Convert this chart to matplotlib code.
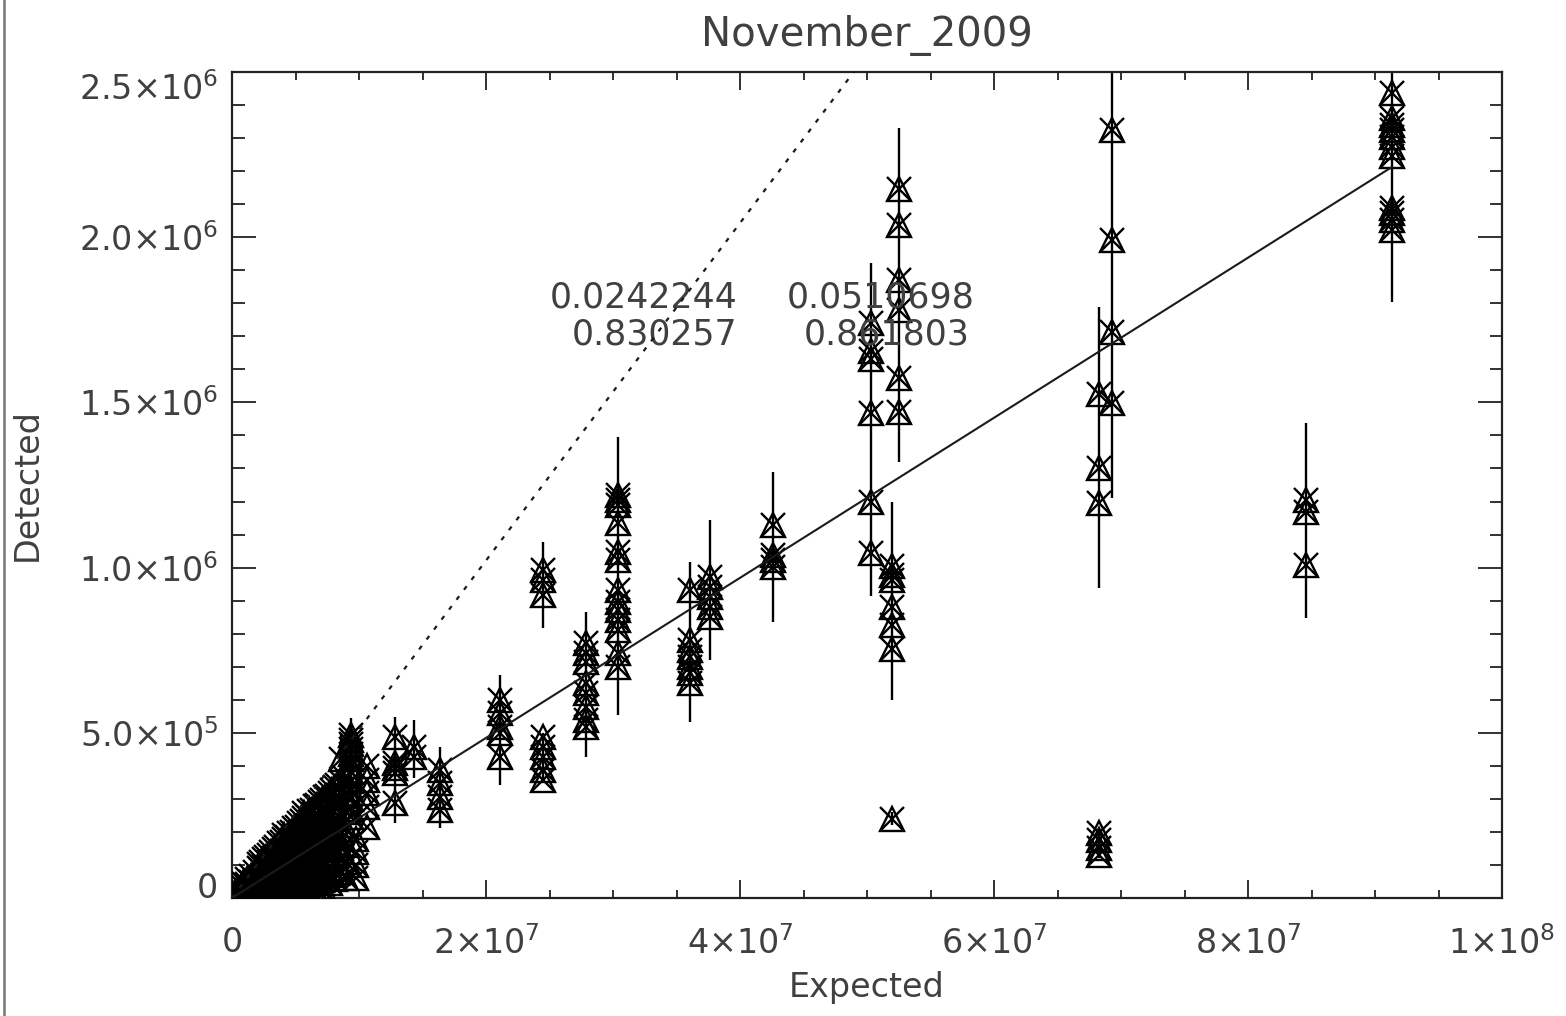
import matplotlib
matplotlib.use("Agg")
import matplotlib.pyplot as plt
from matplotlib.lines import Line2D
from matplotlib.ticker import FixedLocator, MultipleLocator

# ---------------- data (expected in units of 1e6, detected in units of 1e6) ----------------
group_expected = [0.15, 0.35, 0.6, 0.9, 1.2, 1.5, 1.8, 2.1, 2.3, 2.5, 2.7, 2.9, 3.1, 3.3, 3.5,
                  3.7, 3.9, 4.1, 4.3, 4.5, 4.7, 4.9, 5.1, 5.3, 5.5, 5.7, 5.9, 6.1, 6.3, 6.5,
                  6.7, 6.9, 7.1, 7.3, 7.5, 7.7, 7.9, 8.1, 8.3, 8.6, 9.0, 9.4, 9.8, 10.6,
                  12.8, 14.3, 16.4, 21.1, 24.5, 27.9, 30.4, 36.1, 37.6, 42.6, 50.3, 52.0,
                  52.5, 68.3, 69.3, 84.6, 91.3]
group_detected = [
    [0.003, 0.008],
    [0.004, 0.012, 0.020],
    [0.006, 0.015, 0.028],
    [0.005, 0.018, 0.034, 0.045],
    [0.008, 0.022, 0.041, 0.057],
    [0.006, 0.025, 0.047, 0.068],
    [0.010, 0.031, 0.055, 0.079],
    [0.007, 0.036, 0.062, 0.090, 0.102],
    [0.015, 0.050, 0.084, 0.108],
    [0.012, 0.040, 0.071, 0.098, 0.117],
    [0.020, 0.058, 0.093, 0.124],
    [0.009, 0.045, 0.080, 0.108, 0.131],
    [0.022, 0.066, 0.102, 0.138],
    [0.015, 0.052, 0.088, 0.121, 0.148],
    [0.025, 0.072, 0.112, 0.154],
    [0.011, 0.058, 0.095, 0.132, 0.165],
    [0.028, 0.079, 0.121, 0.168],
    [0.018, 0.063, 0.104, 0.146, 0.178, 0.190],
    [0.030, 0.086, 0.130, 0.184],
    [0.014, 0.070, 0.113, 0.158, 0.196],
    [0.033, 0.092, 0.140, 0.200],
    [0.021, 0.076, 0.122, 0.170, 0.212],
    [0.036, 0.098, 0.150, 0.215],
    [0.016, 0.082, 0.131, 0.183, 0.228],
    [0.040, 0.105, 0.160, 0.232],
    [0.024, 0.088, 0.140, 0.196, 0.243, 0.256],
    [0.043, 0.112, 0.170, 0.248],
    [0.019, 0.094, 0.150, 0.209, 0.262],
    [0.046, 0.120, 0.180, 0.265],
    [0.027, 0.100, 0.160, 0.221, 0.278],
    [0.050, 0.128, 0.192, 0.282],
    [0.030, 0.106, 0.170, 0.233, 0.292],
    [0.054, 0.136, 0.203, 0.296],
    [0.020, 0.112, 0.180, 0.246, 0.305],
    [0.060, 0.145, 0.215, 0.310],
    [0.045, 0.120, 0.190, 0.258, 0.318],
    [0.070, 0.155, 0.228, 0.326],
    [0.058, 0.135, 0.205, 0.272, 0.335],
    [0.075, 0.165, 0.240, 0.342],
    [0.080, 0.150, 0.220, 0.290, 0.350, 0.420],
    [0.060, 0.110, 0.160, 0.210, 0.260, 0.310, 0.360],
    [0.493, 0.478, 0.465, 0.450, 0.435, 0.420, 0.400, 0.380, 0.355, 0.330, 0.300, 0.270, 0.245],
    [0.060, 0.100, 0.140, 0.180],
    [0.215, 0.275, 0.318, 0.357, 0.400],
    [0.487, 0.409, 0.393, 0.378, 0.288],
    [0.457, 0.427],
    [0.387, 0.348, 0.306, 0.266],
    [0.599, 0.560, 0.518, 0.499, 0.427],
    [0.993, 0.963, 0.917, 0.487, 0.457, 0.427, 0.387, 0.357],
    [0.772, 0.742, 0.714, 0.651, 0.621, 0.578, 0.539, 0.518],
    [1.220, 1.205, 1.190, 1.135, 1.047, 1.023, 0.932, 0.896, 0.872, 0.841, 0.811, 0.742, 0.699],
    [0.932, 0.781, 0.751, 0.730, 0.699, 0.681, 0.651],
    [0.972, 0.941, 0.911, 0.881, 0.851],
    [1.129, 1.038, 1.023, 1.002],
    [1.741, 1.656, 1.632, 1.468, 1.199, 1.044],
    [1.005, 0.978, 0.963, 0.881, 0.826, 0.754, 0.239],
    [2.146, 2.037, 1.871, 1.780, 1.574, 1.471],
    [1.526, 1.302, 1.196, 0.197, 0.176, 0.151, 0.130],
    [2.325, 1.992, 1.713, 1.498],
    [1.205, 1.168, 1.008],
    [2.437, 2.361, 2.340, 2.324, 2.303, 2.273, 2.245, 2.089, 2.073, 2.052, 2.022],
]

# error bars: expected, lower end, upper end (units of 1e6)
err_expected = [91.3, 84.6, 69.3, 68.3, 68.3, 52.5, 52.0, 52.0, 50.3, 42.6, 37.6, 36.1, 30.4,
                27.9, 24.5, 24.5, 21.1, 16.4, 14.3, 12.8, 9.4, 8.6, 6.1, 4.1]
err_low = [1.804, 0.848, 1.211, 0.938, 0.120, 1.320, 0.599, 0.220, 0.914, 0.835, 0.720, 0.533,
           0.554, 0.427, 0.817, 0.360, 0.342, 0.212, 0.363, 0.227, 0.300, 0.300, 0.150, 0.100]
err_high = [2.600, 1.438, 2.600, 1.789, 0.210, 2.331, 1.199, 0.260, 1.922, 1.290, 1.144, 1.017,
            1.395, 0.866, 1.078, 0.500, 0.675, 0.457, 0.539, 0.548, 0.545, 0.500, 0.300, 0.220]

fit_slopes = [0.0242244, 0.0510698]
fit_corr = [0.830257, 0.861803]

title = "November_2009"
x_label = "Expected"
y_label = "Detected"
x_ticks = [0, 2e7, 4e7, 6e7, 8e7, 1e8]
x_tick_labels = ['0', r'$2{\times}10^{7}$', r'$4{\times}10^{7}$', r'$6{\times}10^{7}$',
                 r'$8{\times}10^{7}$', r'$1{\times}10^{8}$']
y_ticks = [0, 5e5, 1e6, 1.5e6, 2e6, 2.5e6]
y_tick_labels = ['0', r'$5.0{\times}10^{5}$', r'$1.0{\times}10^{6}$', r'$1.5{\times}10^{6}$',
                 r'$2.0{\times}10^{6}$', r'$2.5{\times}10^{6}$']

# ---------------- flatten ----------------
SCALE = 1e6
xs, ys = [], []
for gx, gy in zip(group_expected, group_detected):
    for v in gy:
        xs.append(gx * SCALE)
        ys.append(v * SCALE)

# ---------------- figure ----------------
plt.rcParams['font.family'] = ['DejaVu Sans']
plt.rcParams['mathtext.fontset'] = 'dejavusans'
TXT = '#404040'
FS = 24
INK = '#000000'

fig = plt.figure(figsize=(15.66, 10.16), dpi=100)
W, H = 1566, 1016
L, R, T, B = 232, 1502, 72, 898
ax = fig.add_axes([L / W, 1 - B / H, (R - L) / W, (B - T) / H])
ax.set_xlim(0, 1e8)
ax.set_ylim(0, 2.5e6)

# error bars
ax.vlines([e * SCALE for e in err_expected], [e * SCALE for e in err_low],
          [e * SCALE for e in err_high], colors=INK, linewidth=1.7, zorder=2)

# markers: triangle + cross
ax.plot(xs, ys, linestyle='none', marker='^', markersize=17.5, markerfacecolor='none',
        markeredgecolor=INK, markeredgewidth=1.7, zorder=3)
ax.plot(xs, ys, linestyle='none', marker='x', markersize=17.5,
        markeredgecolor=INK, markeredgewidth=1.7, zorder=3)

# fit lines
xmax = max(xs)
ax.plot([0, xmax], [0, fit_slopes[0] * xmax], color='#1a1a1a', linewidth=1.5, zorder=4)
ax.plot([0, 1e8], [0, fit_slopes[1] * 1e8], color='#1a1a1a', linewidth=1.6,
        linestyle=(0, (2.0, 3.6)), zorder=4)

# annotations
ax.text(3.984e7, 1.816e6, f"{fit_slopes[0]}", ha='right', va='center', fontsize=25, color=TXT)
ax.text(5.850e7, 1.816e6, f"{fit_slopes[1]}", ha='right', va='center', fontsize=25, color=TXT)
ax.text(3.977e7, 1.704e6, f"{fit_corr[0]}", ha='right', va='center', fontsize=25, color=TXT)
ax.text(5.811e7, 1.704e6, f"{fit_corr[1]}", ha='right', va='center', fontsize=25, color=TXT)

# ticks
ax.xaxis.set_major_locator(FixedLocator(x_ticks))
ax.xaxis.set_minor_locator(MultipleLocator(5e6))
ax.yaxis.set_major_locator(FixedLocator(y_ticks))
ax.yaxis.set_minor_locator(MultipleLocator(1e5))
ax.set_xticklabels(x_tick_labels)
ax.set_yticklabels(y_tick_labels)
ax.tick_params(which='both', direction='in', top=True, right=True, colors='#222222',
               labelcolor=TXT, labelsize=FS, width=1.3)
ax.xaxis.set_tick_params(which='major', length=13, pad=20)
ax.xaxis.set_tick_params(which='minor', length=6)
ax.yaxis.set_tick_params(which='major', length=17, pad=10)
ax.yaxis.set_tick_params(which='minor', length=9)
yt = ax.yaxis.get_major_ticks()
yt[0].label1.set_verticalalignment('baseline')
yt[-1].label1.set_verticalalignment('top')

for s in ax.spines.values():
    s.set_linewidth(1.6)
    s.set_color('#222222')

ax.set_xlabel(x_label, fontsize=FS, color=TXT)
ax.xaxis.set_label_coords(0.5, -(988 - B) / (B - T))
ax.xaxis.label.set_verticalalignment('center')
ax.set_ylabel(y_label, fontsize=FS, color=TXT)
ax.yaxis.set_label_coords(-(L - 27) / (R - L), 0.5)
ax.yaxis.label.set_verticalalignment('center')

fig.text((L + R) / 2 / W, 1 - 36 / H, title, ha='center', va='center', fontsize=29, color=TXT)

fig.add_artist(Line2D([3.5 / W, 3.5 / W], [0, 1], color='#7d756f', linewidth=1.8))

fig.savefig('out.png', dpi=100, facecolor='white')
